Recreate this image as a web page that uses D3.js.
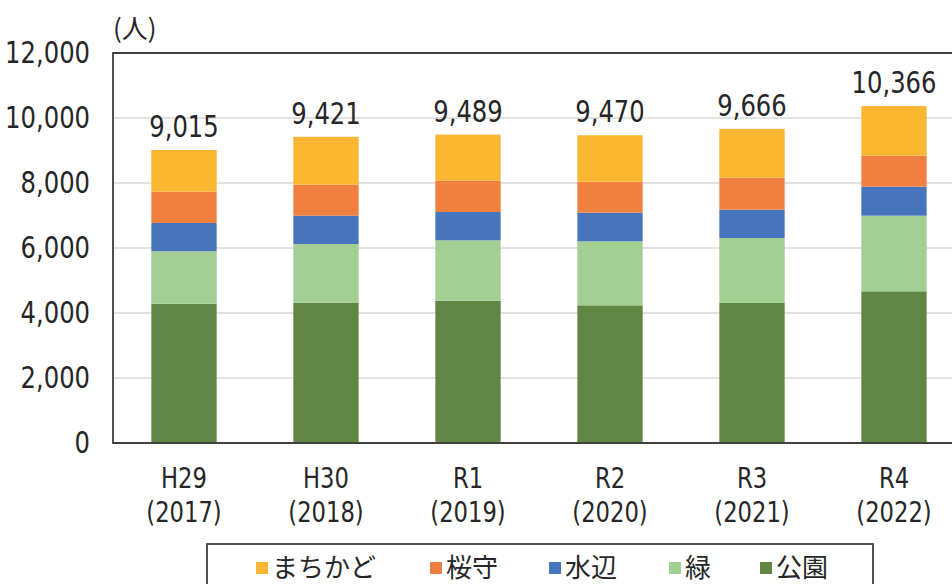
<!DOCTYPE html>
<html><head><meta charset="utf-8">
<script src="https://cdn.jsdelivr.net/npm/d3@7/dist/d3.min.js"></script>
<style>
html,body{margin:0;padding:0;background:#fff;}
svg{display:block;}
.num{font-family:"DejaVu Sans Condensed","Noto Sans CJK JP",sans-serif;fill:#262626;}
.jp{font-family:"Noto Sans CJK JP",sans-serif;fill:#262626;}
</style></head>
<body>
<svg id="chart" width="952" height="584"></svg>
<script>
const categories = ["H29", "H30", "R1", "R2", "R3", "R4"];
const years = ["(2017)", "(2018)", "(2019)", "(2020)", "(2021)", "(2022)"];
const seriesNames = ["公園", "緑", "水辺", "桜守", "まちかど"];
const koen     = [4286, 4317, 4379, 4236, 4308, 4667];
const midori   = [1612, 1806, 1857, 1969, 2000, 2328];
const mizube   = [871, 872, 872, 882, 872, 892];
const sakuramori = [963, 954, 964, 954, 984, 954];
const machikado = [1283, 1472, 1417, 1429, 1502, 1525];
const totals = [9015, 9421, 9489, 9470, 9666, 10366];
const yTicks = [0, 2000, 4000, 6000, 8000, 10000, 12000];
const colors = ["#618542", "#A3CF93", "#4674BD", "#F17F3F", "#FBB731"];
const legendOrder = ["まちかど", "桜守", "水辺", "緑", "公園"];

(function () {
const svg = d3.select("#chart");
const pL = 113, pT = 53, pB = 443, pR = 965;
const sx = 0.9; // horizontal condensing of numeric text

const rows = categories.map((c, i) => ({
  cat: c, "公園": koen[i], "緑": midori[i], "水辺": mizube[i], "桜守": sakuramori[i], "まちかど": machikado[i]
}));
const stack = d3.stack().keys(seriesNames)(rows);

const x = d3.scaleBand().domain(categories).range([pL, pR]).paddingInner(0.54).paddingOuter(0.27);
const y = d3.scaleLinear().domain([0, 12000]).range([pB, pT]);
const color = d3.scaleOrdinal().domain(seriesNames).range(colors);
const fmt = d3.format(",");
const cx = d => x(d) + x.bandwidth() / 2;

// gridlines
svg.append("g").selectAll("line").data(yTicks.filter(t => t > 0 && t < 12000)).join("line")
  .attr("x1", pL).attr("x2", pR).attr("y1", d => y(d)).attr("y2", d => y(d))
  .attr("stroke", "#d9d9d9").attr("stroke-width", 1.3);

// bars
svg.append("g").selectAll("g").data(stack).join("g")
  .attr("fill", d => color(d.key))
  .selectAll("rect").data(d => d).join("rect")
  .attr("x", d => x(d.data.cat)).attr("width", x.bandwidth())
  .attr("y", d => y(d[1])).attr("height", d => y(d[0]) - y(d[1]));

// frame
svg.append("path")
  .attr("d", `M${pR},${y(12000)}H${pL}V${y(0)}H${pR}`)
  .attr("fill", "none").attr("stroke", "#404040").attr("stroke-width", 1.8);

// y axis labels
const yAxis = d3.axisLeft(y).tickValues(yTicks).tickFormat(fmt).tickSize(0);
const ya = svg.append("g").attr("transform", `translate(${pL},0)`).call(yAxis);
ya.select(".domain").remove();
ya.selectAll("text").attr("class", "num").attr("font-size", 30).attr("fill", "#262626")
  .attr("font-family", null).attr("x", -23 / sx).attr("transform", `scale(${sx},1)`);

// x axis labels
const xa = svg.append("g");
xa.selectAll("text.cat").data(categories).join("text").attr("class", "num cat")
  .attr("transform", d => `translate(${cx(d)},488) scale(${sx},1)`)
  .attr("text-anchor", "middle").attr("font-size", 28).text(d => d);
xa.selectAll("text.yr").data(categories).join("text").attr("class", "num yr")
  .attr("transform", d => `translate(${cx(d)},522) scale(${sx},1)`)
  .attr("text-anchor", "middle").attr("font-size", 28).text((d, i) => years[i]);

// totals
svg.append("g").selectAll("text").data(categories).join("text").attr("class", "num")
  .attr("transform", (d, i) => `translate(${cx(d)},${y(totals[i]) - 13}) scale(${sx},1)`)
  .attr("text-anchor", "middle").attr("font-size", 30).text((d, i) => fmt(totals[i]));

// unit label
svg.append("text").attr("class", "jp").attr("x", 113).attr("y", 38)
  .attr("font-size", 26).text("(人)");

// legend
const lg = svg.append("g");
lg.append("rect").attr("x", 207).attr("y", 544).attr("width", 666).attr("height", 50)
  .attr("fill", "#fff").attr("stroke", "#404040").attr("stroke-width", 1.8);
const lx = [256, 430, 549, 669, 760];
const items = lg.selectAll("g.item").data(legendOrder).join("g").attr("class", "item")
  .attr("transform", (d, i) => `translate(${lx[i]},562)`);
items.append("rect").attr("width", 12).attr("height", 12).attr("fill", d => color(d));
items.append("text").attr("class", "jp").attr("x", 16).attr("y", 15).attr("font-size", 26).text(d => d);
})();
</script>
</body></html>
